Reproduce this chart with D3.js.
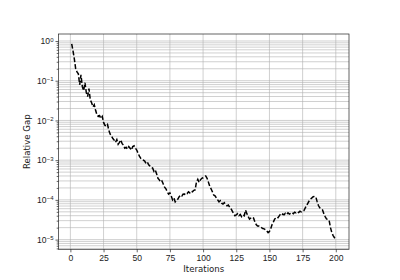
<!DOCTYPE html>
<html lang="en">
<head>
    <meta charset="UTF-8">
    <title>Relative Gap</title>
    <style>
        body { margin: 0; background: #fff; }
        svg { display: block; font-family: "DejaVu Sans", sans-serif; }
        .tick text { fill: #222; }
    </style>
</head>
<body>
    <div id="chart"></div>

    <script src="https://d3js.org/d3.v7.min.js"></script>
    <script>
        // relative gap per iteration (1..200)
        const gap = [
            0.85, 0.56, 0.35, 0.20, 0.166, 0.15, 0.079, 0.14, 0.071, 0.056,
            0.089, 0.050, 0.040, 0.063, 0.033, 0.028, 0.022, 0.025, 0.018, 0.014,
            0.0126, 0.0132, 0.0112, 0.0126, 0.0089, 0.0076, 0.0071, 0.0079, 0.0056, 0.0045,
            0.0040, 0.0035, 0.0032, 0.0028, 0.0033, 0.0025, 0.0028, 0.0032, 0.0026, 0.0024,
            0.0020, 0.0021, 0.0019, 0.0022, 0.0020, 0.0018, 0.0022, 0.0023, 0.0020, 0.0018,
            0.0015, 0.00126, 0.00112, 0.00105, 0.00100, 0.00095, 0.00083, 0.00089, 0.00076, 0.00071,
            0.00066, 0.00063, 0.00052, 0.00056, 0.00045, 0.00035, 0.00032, 0.00028, 0.00030, 0.00025,
            0.00021, 0.00019, 0.00016, 0.00014, 0.00015, 0.000126, 0.000100, 0.000112, 0.000089, 0.000095,
            0.000105, 0.00012, 0.000132, 0.000126, 0.00014, 0.000138, 0.00015, 0.000145, 0.00016, 0.00015,
            0.000166, 0.00016, 0.000174, 0.000178, 0.00028, 0.00033, 0.000275, 0.00032, 0.00035, 0.00036,
            0.00038, 0.00040, 0.00035, 0.00028, 0.00022, 0.00019, 0.00016, 0.000132, 0.000126, 0.000112,
            0.000100, 0.000089, 0.000095, 0.000083, 0.000079, 0.000085, 0.000076, 0.000071, 0.000074, 0.000066,
            0.000060, 0.000052, 0.000045, 0.000040, 0.000042, 0.000045, 0.000040, 0.000043, 0.000038, 0.000042,
            0.000040, 0.000055, 0.000045, 0.000038, 0.000033, 0.000035, 0.000037, 0.000035, 0.000028, 0.000024,
            0.000022, 0.000022, 0.000021, 0.000020, 0.000019, 0.0000186, 0.0000178, 0.0000166, 0.000015, 0.000016,
            0.000019, 0.000024, 0.000028, 0.000033, 0.000035, 0.000034, 0.000038, 0.000042, 0.000040, 0.000044,
            0.000042, 0.000046, 0.000043, 0.000047, 0.000044, 0.000046, 0.000048, 0.000045, 0.000049, 0.000047,
            0.000050, 0.000048, 0.000052, 0.000050, 0.000051, 0.000054, 0.000063, 0.000072, 0.000083, 0.000095,
            0.000105, 0.000112, 0.00012, 0.000123, 0.000117, 0.000089, 0.000071, 0.000063, 0.000060, 0.000056,
            0.000045, 0.000038, 0.000033, 0.000032, 0.000030, 0.000020, 0.000015, 0.0000126, 0.0000112, 0.0000105
        ];
        const iterations = gap.map((d, i) => i + 1);

        const xTicks = [0, 25, 50, 75, 100, 125, 150, 175, 200];
        const yTicks = [1e-5, 1e-4, 1e-3, 1e-2, 1e-1, 1];
        const yExponents = ["\u22125", "\u22124", "\u22123", "\u22122", "\u22121", "0"];

        const width = 400;
        const height = 280;
        const margin = { top: 34, right: 51, bottom: 30.7, left: 58.5 };

        const svg = d3.select("#chart").append("svg")
            .attr("width", width)
            .attr("height", height);

        const x = d3.scaleLinear()
            .domain([-8.95, 209.95])
            .range([margin.left, width - margin.right]);

        const y = d3.scaleLog()
            .domain([5.7e-6, 1.5])
            .range([height - margin.bottom, margin.top]);

        // minor decades for the log grid
        const minorTicks = [];
        for (let e = -6; e <= 0; e++) {
            for (let m = 2; m <= 9; m++) {
                const v = m * Math.pow(10, e);
                if (v > y.domain()[0] && v < y.domain()[1]) minorTicks.push(v);
            }
        }

        const grid = svg.append("g");
        grid.selectAll(".hminor")
            .data(minorTicks)
            .enter()
            .append("line")
            .attr("x1", margin.left)
            .attr("x2", width - margin.right)
            .attr("y1", d => y(d))
            .attr("y2", d => y(d))
            .attr("stroke", "#b0b0b0")
            .attr("stroke-width", 0.6);

        grid.selectAll(".hmajor")
            .data(yTicks)
            .enter()
            .append("line")
            .attr("x1", margin.left)
            .attr("x2", width - margin.right)
            .attr("y1", d => y(d))
            .attr("y2", d => y(d))
            .attr("stroke", "#b0b0b0")
            .attr("stroke-width", 0.6);

        grid.selectAll(".vmajor")
            .data(xTicks)
            .enter()
            .append("line")
            .attr("x1", d => x(d))
            .attr("x2", d => x(d))
            .attr("y1", margin.top)
            .attr("y2", height - margin.bottom)
            .attr("stroke", "#b0b0b0")
            .attr("stroke-width", 0.6);

        const line = d3.line()
            .x((d, i) => x(iterations[i]))
            .y(d => y(d));

        svg.append("path")
            .datum(gap)
            .attr("fill", "none")
            .attr("stroke", "black")
            .attr("stroke-width", 1.5)
            .attr("stroke-dasharray", "4.8,2.1")
            .attr("d", line);

        // x axis
        const xAxis = svg.append("g")
            .attr("transform", `translate(0, ${height - margin.bottom})`)
            .call(d3.axisBottom(x).tickValues(xTicks).tickSize(3).tickPadding(3));
        xAxis.select(".domain").remove();
        xAxis.selectAll("text").style("font-size", "8.6px");

        // y axis, major with superscript labels
        const yAxis = svg.append("g")
            .attr("transform", `translate(${margin.left}, 0)`)
            .call(d3.axisLeft(y).tickValues(yTicks).tickSize(3).tickPadding(4).tickFormat(""));
        yAxis.select(".domain").remove();
        yAxis.selectAll(".tick").each(function (d, i) {
            const t = d3.select(this).select("text")
                .attr("x", -5)
                .attr("dy", "0.32em")
                .style("font-size", "8.6px");
            t.append("tspan").text("10");
            t.append("tspan")
                .attr("dy", "-0.45em")
                .style("font-size", "6px")
                .text(yExponents[i]);
        });

        svg.append("g")
            .attr("transform", `translate(${margin.left}, 0)`)
            .call(d3.axisLeft(y).tickValues(minorTicks).tickSize(1.8).tickFormat(""))
            .select(".domain").remove();

        svg.selectAll(".tick line").attr("stroke", "#222").attr("stroke-width", 0.7);

        // frame
        svg.append("rect")
            .attr("x", margin.left)
            .attr("y", margin.top)
            .attr("width", width - margin.left - margin.right)
            .attr("height", height - margin.top - margin.bottom)
            .attr("fill", "none")
            .attr("stroke", "#222")
            .attr("stroke-width", 0.7);

        svg.append("text")
            .attr("x", (margin.left + width - margin.right) / 2)
            .attr("y", 272)
            .attr("text-anchor", "middle")
            .style("font-size", "8.6px")
            .style("fill", "#222")
            .text("Iterations");

        svg.append("text")
            .attr("transform", `translate(30, ${(margin.top + height - margin.bottom) / 2}) rotate(-90)`)
            .attr("text-anchor", "middle")
            .style("font-size", "8.6px")
            .style("fill", "#222")
            .text("Relative Gap");
    </script>
</body>
</html>
